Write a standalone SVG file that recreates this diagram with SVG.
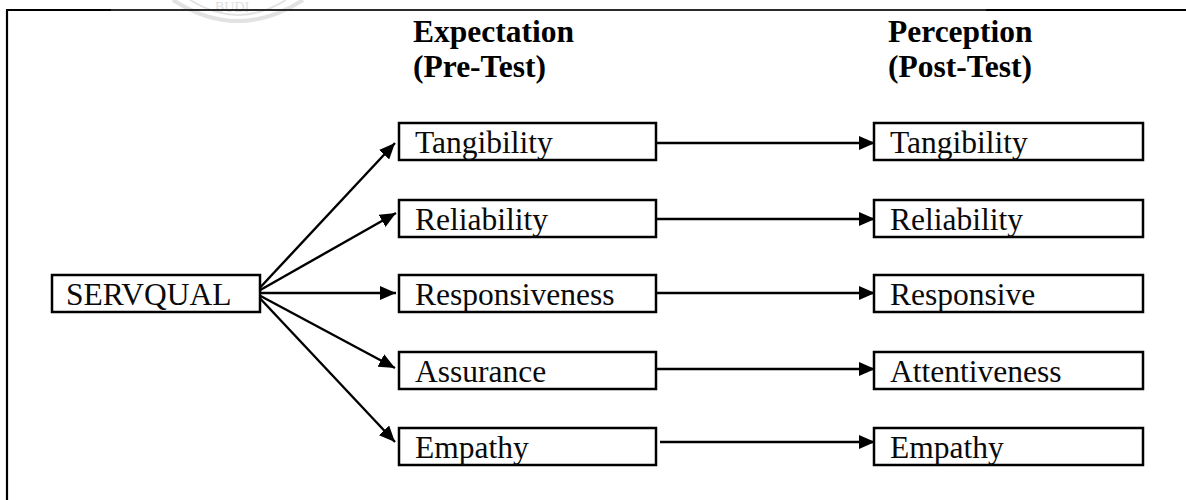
<svg xmlns="http://www.w3.org/2000/svg" width="1186" height="500" viewBox="0 0 1186 500">
  <style>
    .box { fill: #ffffff; stroke: #000000; stroke-width: 2.5; }
    .lbl { font-family: "Liberation Serif", "Times New Roman", serif; font-size: 31.5px; fill: #0a0a0a; }
    .head { font-family: "Liberation Serif", "Times New Roman", serif; font-size: 31.5px; font-weight: bold; fill: #000000; }
    .conn { stroke: #000000; stroke-width: 2.4; fill: none; marker-end: url(#arrow); }
  </style>
  <defs>
    <marker id="arrow" markerUnits="userSpaceOnUse" markerWidth="16" markerHeight="14" refX="16" refY="7" orient="auto">
      <path d="M0,0 L16,7 L0,14 z" fill="#000000"/>
    </marker>
  </defs>

  <rect width="1186" height="500" fill="#ffffff"/>

  <!-- faint seal at the top of the page -->
  <g id="seal" fill="none" stroke="#e2e2e2" stroke-width="4">
    <path d="M173,0 Q238,42 303,0"/>
    <path d="M190,0 Q238,30 286,0" stroke-width="2"/>
  </g>
  <text x="215" y="12" font-family="Liberation Serif, serif" font-size="14" fill="#e0e0e0">BUDI</text>

  <!-- frame: left and top edges -->
  <g id="frame" stroke-width="2.2">
    <line x1="7" y1="10" x2="7" y2="500" stroke="#000000"/>
    <line x1="6" y1="10" x2="111" y2="10" stroke="#000000"/>
    <line x1="111" y1="10" x2="986" y2="10" stroke="#2b2b2b"/>
    <line x1="986" y1="10" x2="1186" y2="10" stroke="#000000"/>
  </g>

  <!-- column headings -->
  <g id="head-expectation">
    <text class="head" x="413" y="42">Expectation</text>
    <text class="head" x="413" y="77">(Pre-Test)</text>
  </g>
  <g id="head-perception">
    <text class="head" x="888" y="42">Perception</text>
    <text class="head" x="888" y="77">(Post-Test)</text>
  </g>

  <!-- connectors -->
  <g id="connectors">
    <line class="conn" x1="255" y1="293" x2="395" y2="143"/>
    <line class="conn" x1="255" y1="293" x2="396" y2="213"/>
    <line class="conn" x1="255" y1="293" x2="396" y2="293"/>
    <line class="conn" x1="255" y1="293" x2="395" y2="368"/>
    <line class="conn" x1="255" y1="293" x2="395" y2="442"/>

    <line class="conn" x1="657" y1="143" x2="875" y2="143"/>
    <line class="conn" x1="657" y1="219" x2="875" y2="219"/>
    <line class="conn" x1="657" y1="293" x2="875" y2="293"/>
    <line class="conn" x1="657" y1="369" x2="875" y2="369"/>
    <line class="conn" x1="660" y1="442" x2="875" y2="442"/>
  </g>

  <!-- source node -->
  <g id="servqual">
    <rect class="box" x="52" y="275" width="208" height="37"/>
    <text class="lbl" x="66" y="305">SERVQUAL</text>
  </g>

  <!-- expectation column -->
  <g id="exp-tangibility">
    <rect class="box" x="399" y="123" width="257" height="37"/>
    <text class="lbl" x="415" y="153">Tangibility</text>
  </g>
  <g id="exp-reliability">
    <rect class="box" x="399" y="200" width="257" height="37"/>
    <text class="lbl" x="415" y="230">Reliability</text>
  </g>
  <g id="exp-responsiveness">
    <rect class="box" x="399" y="275" width="257" height="37"/>
    <text class="lbl" x="415" y="305">Responsiveness</text>
  </g>
  <g id="exp-assurance">
    <rect class="box" x="399" y="352" width="257" height="37"/>
    <text class="lbl" x="415" y="382">Assurance</text>
  </g>
  <g id="exp-empathy">
    <rect class="box" x="399" y="428" width="257" height="37"/>
    <text class="lbl" x="415" y="458">Empathy</text>
  </g>

  <!-- perception column -->
  <g id="per-tangibility">
    <rect class="box" x="874" y="123" width="269" height="37"/>
    <text class="lbl" x="890" y="153">Tangibility</text>
  </g>
  <g id="per-reliability">
    <rect class="box" x="874" y="200" width="269" height="37"/>
    <text class="lbl" x="890" y="230">Reliability</text>
  </g>
  <g id="per-responsive">
    <rect class="box" x="874" y="275" width="269" height="37"/>
    <text class="lbl" x="890" y="305">Responsive</text>
  </g>
  <g id="per-attentiveness">
    <rect class="box" x="874" y="352" width="269" height="37"/>
    <text class="lbl" x="890" y="382">Attentiveness</text>
  </g>
  <g id="per-empathy">
    <rect class="box" x="874" y="428" width="269" height="37"/>
    <text class="lbl" x="890" y="458">Empathy</text>
  </g>
</svg>
